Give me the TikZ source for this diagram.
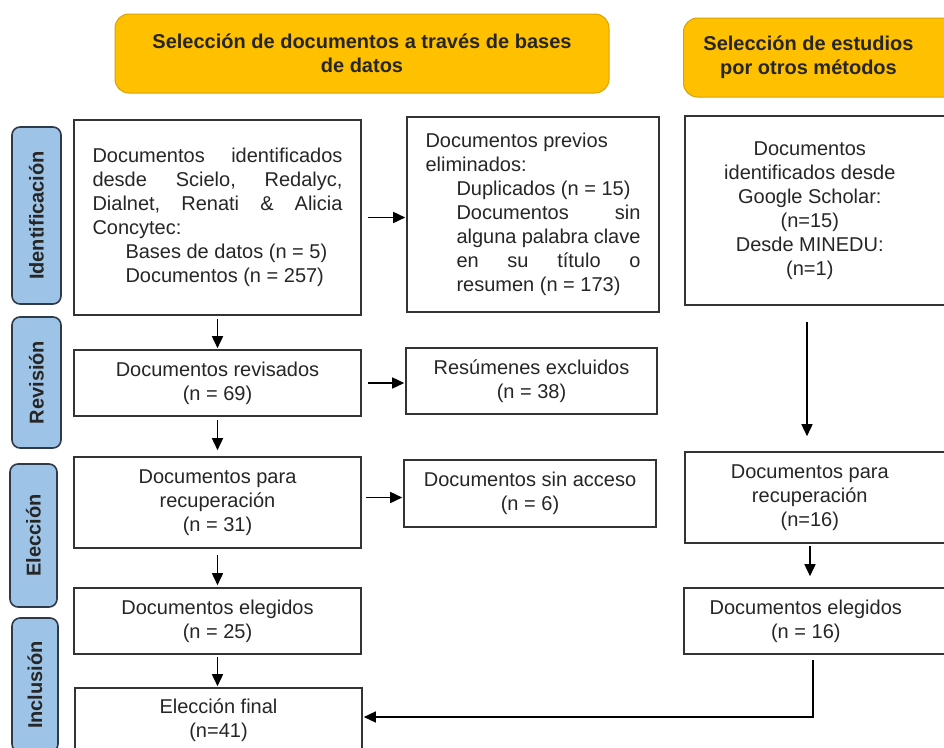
\documentclass[tikz,border=0pt]{standalone}
\usepackage{fontspec}
\setmainfont{Liberation Sans}
\usetikzlibrary{arrows.meta}
\definecolor{amarillo}{HTML}{FFC000}
\definecolor{bordeamarillo}{HTML}{D9A200}
\definecolor{azulfase}{HTML}{9DC3E6}
\definecolor{bordeazul}{HTML}{2E3A48}
\definecolor{texto}{HTML}{262626}
\newcommand{\letra}{\fontsize{20}{24}\selectfont}

\begin{document}
\begin{tikzpicture}[x=1pt, y=-1pt,
  every node/.style={font=\letra, text=texto},
  caja/.style={draw=black!80, line width=1.6pt, fill=white, inner sep=0pt},
  cabecera/.style={draw=bordeamarillo, line width=1pt, fill=amarillo, rounded corners=14pt, inner sep=0pt, font=\letra\bfseries},
  fase/.style={draw=bordeazul, line width=1.6pt, fill=azulfase, rounded corners=8pt, rotate=90, inner sep=0pt, font=\letra\bfseries},
  flecha/.style={-{Triangle[length=12pt,width=11pt]}, line width=1.6pt, shorten <=3pt, shorten >=1pt}]
\useasboundingbox (0,0) rectangle (944,747);
\clip (0,0) rectangle (944,747);
\fill[white] (0,0) rectangle (944,747);

% cabeceras
\node[cabecera, minimum width=494pt, minimum height=79pt, align=center] (bases) at (362,53.5) {Selección de documentos a través de bases\\de datos};
\node[cabecera, minimum height=79pt, anchor=west] (metodos) at (683,57.5) {\parbox{250pt}{\centering Selección de estudios\\por otros métodos}\hspace*{30pt}};

% fases
\node[fase, minimum width=177pt, minimum height=49pt] (ident) at (36.5,215.5) {Identificación};
\node[fase, minimum width=131pt, minimum height=49pt] (revis) at (36.5,382.5) {Revisión};
\node[fase, minimum width=143pt, minimum height=47pt] (elecc) at (33.5,535.5) {Elección};
\node[fase, minimum width=134pt, minimum height=46pt] (inclu) at (35,685) {Inclusión};

% bases de datos
\node[caja, minimum width=287pt, minimum height=195pt] (docid) at (217.5,217.5) {\parbox{250pt}{Documentos\hfill identificados\\
desde\hfill Scielo,\hfill Redalyc,\\
Dialnet,\hfill Renati\hfill \&\hfill Alicia\\
Concytec:\\
\hspace*{33pt}Bases de datos (n = 5)\\
\hspace*{33pt}Documentos (n = 257)}};
\node[caja, minimum width=252pt, minimum height=195pt] (previos) at (533,214.5) {\parbox{215pt}{Documentos previos\\
eliminados:\\
\hspace*{31pt}Duplicados (n = 15)\\
\hspace*{31pt}Documentos\hfill sin\\
\hspace*{31pt}alguna\hfill palabra\hfill clave\\
\hspace*{31pt}en\hfill su\hfill título\hfill o\\
\hspace*{31pt}resumen (n = 173)}};
\node[caja, minimum width=287pt, minimum height=66pt, align=center] (docrev) at (217.5,383) {Documentos revisados\\(n = 69)};
\node[caja, minimum width=251pt, minimum height=66pt, align=center] (excl) at (531.5,381) {Resúmenes excluidos\\(n = 38)};
\node[caja, minimum width=287pt, minimum height=91pt, align=center] (docrec) at (217.5,502.5) {Documentos para\\recuperación\\(n = 31)};
\node[caja, minimum width=252pt, minimum height=67pt, align=center] (sinacc) at (530,493.5) {Documentos sin acceso\\(n = 6)};
\node[caja, minimum width=287pt, minimum height=66pt, align=center] (doceleg) at (217.5,621) {Documentos elegidos\\(n = 25)};
\node[caja, minimum width=287pt, minimum height=64pt, align=center] (final) at (218.5,720) {Elección final\\(n=41)};

% otros metodos
\node[caja, minimum height=189pt, anchor=west] (otros) at (684,210.5) {\parbox{250pt}{\centering Documentos\\identificados desde\\Google Scholar:\\(n=15)\\Desde MINEDU:\\(n=1)}\hspace*{30pt}};
\node[caja, minimum height=91pt, anchor=west] (recotros) at (684,497.5) {\parbox{250pt}{\centering Documentos para\\recuperación\\(n=16)}\hspace*{30pt}};
\node[caja, minimum height=66pt, anchor=west] (elegotros) at (683,621) {\parbox{244pt}{\centering Documentos elegidos\\(n = 16)}\hspace*{36pt}};
\coordinate (ejeA) at (807,0);
\coordinate (ejeB) at (810,0);
\coordinate (ejeC) at (813,0);

% flechas
\draw[flecha, shorten <=6pt] (docid.east) -- (docid.east -| previos.west);
\draw[flecha, shorten <=6pt] (docrev.east) -- (docrev.east -| excl.west);
\draw[flecha, shorten <=4pt] ([yshift=5pt]docrec.east) -- ([yshift=5pt]docrec.east -| sinacc.west);
\draw[flecha] (docid) -- (docrev);
\draw[flecha, shorten >=6pt] (docrev) -- (docrec);
\draw[flecha, shorten <=6pt, shorten >=2pt] (docrec) -- (doceleg);
\draw[flecha, shorten <=2pt] (doceleg.south) -- (doceleg.south |- final.north);
\draw[flecha, shorten <=16pt, shorten >=15pt] (otros.south -| ejeA) -- (recotros.north -| ejeA);
\draw[flecha, shorten <=2pt, shorten >=11pt] (recotros.south -| ejeB) -- (elegotros.north -| ejeB);
\draw[flecha, shorten <=5pt, line width=1.3pt] (elegotros.south -| ejeC) |- ([yshift=3pt]final.east);
\end{tikzpicture}
\end{document}
